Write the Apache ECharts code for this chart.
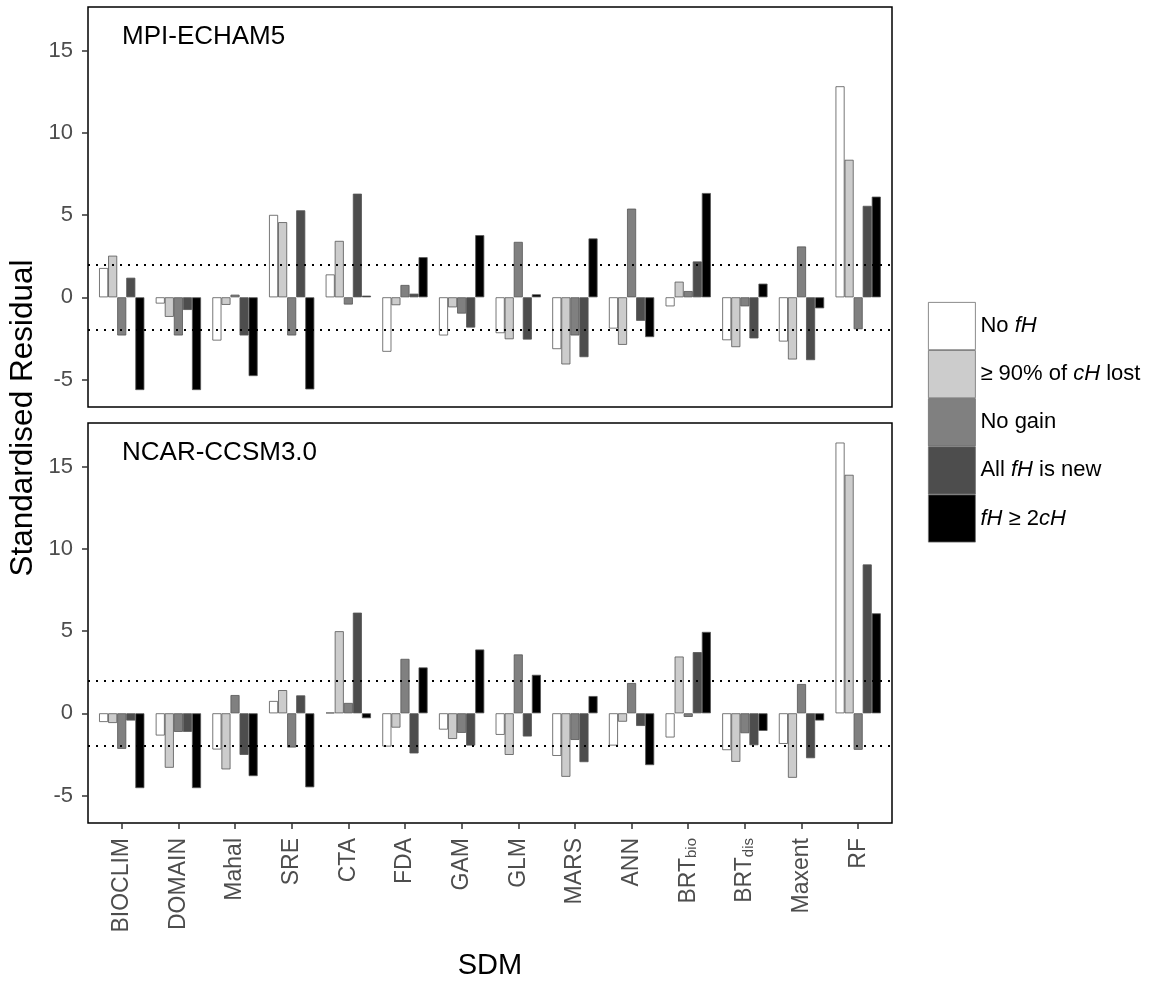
<!DOCTYPE html>
<html>
<head>
	<meta charset="UTF-8">
	<title>Standardised residuals by SDM</title>
	<script src="https://cdn.jsdelivr.net/npm/echarts@6/dist/echarts.min.js"></script>
	<style>
		html, body { margin: 0; padding: 0; background: #fff; }
	</style>
</head>
<body>
	<div id="chart1" style="width: 1154px;height: 987px;"></div>
<script type="text/javascript">
	// SDM names on the x axis
	var categories = ['BIOCLIM', 'DOMAIN', 'Mahal', 'SRE', 'CTA', 'FDA', 'GAM', 'GLM', 'MARS', 'ANN', 'BRT_bio', 'BRT_dis', 'Maxent', 'RF'];
	var legendNames = ['No fH', '≥ 90% of cH lost', 'No gain', 'All fH is new', 'fH ≥ 2cH'];
	var panelNames = ['MPI-ECHAM5', 'NCAR-CCSM3.0'];
	var yTicks = [-5, 0, 5, 10, 15];

	// MPI-ECHAM5 panel
	var mpiNoFH    = [1.78, -0.38, -2.63, 5.01, 1.39, -3.31, -2.32, -2.18, -3.15, -1.90, -0.55, -2.61, -2.69, 12.83];
	var mpiLost90  = [2.53, -1.19, -0.46, 4.57, 3.43, -0.48, -0.61, -2.55, -4.08, -2.89, 0.95, -3.03, -3.78, 8.36];
	var mpiNoGain  = [-2.32, -2.32, 0.16, -2.32, -0.44, 0.75, -0.99, 3.37, -2.32, 5.39, 0.38, -0.55, 3.09, -1.94];
	var mpiAllNew  = [1.19, -0.77, -2.32, 5.29, 6.30, 0.22, -1.84, -2.57, -3.64, -1.43, 2.18, -2.50, -3.82, 5.56];
	var mpiDouble  = [-5.64, -5.64, -4.79, -5.60, 0.10, 2.44, 3.78, 0.18, 3.58, -2.42, 6.34, 0.83, -0.67, 6.12];

	// NCAR-CCSM3.0 panel
	var ncarNoFH   = [-0.53, -1.35, -2.20, 0.75, 0.04, -2.02, -0.99, -1.31, -2.59, -1.96, -1.47, -2.24, -1.86, 16.46];
	var ncarLost90 = [-0.59, -3.31, -3.41, 1.41, 4.99, -0.87, -1.56, -2.53, -3.86, -0.51, 3.45, -2.95, -3.92, 14.50];
	var ncarNoGain = [-2.16, -1.13, 1.11, -2.08, 0.63, 3.31, -1.19, 3.58, -1.62, 1.84, -0.22, -1.21, 1.78, -2.22];
	var ncarAllNew = [-0.44, -1.13, -2.53, 1.09, 6.12, -2.44, -1.96, -1.41, -2.97, -0.77, 3.72, -1.94, -2.73, 9.05];
	var ncarDouble = [-4.55, -4.55, -3.82, -4.50, -0.30, 2.79, 3.88, 2.34, 1.05, -3.15, 4.95, -1.07, -0.44, 6.08];

	var refLines = [2, -2];

	var panels = [
		[mpiNoFH, mpiLost90, mpiNoGain, mpiAllNew, mpiDouble],
		[ncarNoFH, ncarLost90, ncarNoGain, ncarAllNew, ncarDouble]
	];

	var fills = ['#ffffff', '#cccccc', '#808080', '#4d4d4d', '#000000'];
	var font = '"Liberation Sans", Arial, sans-serif';
	var yMin = -6.67, yMax = 17.65;

	// legend labels with italic fH / cH
	var legendRich = {
		'No fH': 'No {i|fH}',
		'≥ 90% of cH lost': '≥ 90% of {i|cH} lost',
		'No gain': 'No gain',
		'All fH is new': 'All {i|fH} is new',
		'fH ≥ 2cH': '{i|fH} ≥ 2{i|cH}'
	};

	var panelTop = [7, 423];
	var panelHeight = 400;

	var chart1 = echarts.init(document.getElementById("chart1"));

	var grids = [], xAxes = [], yAxes = [], series = [];

	// frame grids (border, y axis, dotted lines)
	panelTop.forEach(function (top, p) {
		grids.push({
			left: 88, top: top, width: 804, height: panelHeight,
			show: true, borderColor: '#000', borderWidth: 1.5,
			backgroundColor: 'transparent', containLabel: false, outerBoundsMode: 'none'
		});
		xAxes.push({ type: 'value', gridIndex: p, min: 0, max: 1, show: false });
		yAxes.push({
			type: 'value', gridIndex: p, min: yMin, max: yMax,
			splitLine: { show: false },
			axisLine: { show: false },
			axisTick: { show: true, length: 6, customValues: yTicks, lineStyle: { color: '#333', width: 1.5 } },
			axisLabel: { customValues: yTicks, margin: 15, fontSize: 22, color: '#4d4d4d', fontFamily: font }
		});
		series.push({
			type: 'line', name: 'ref' + p, xAxisIndex: p, yAxisIndex: p, data: [],
			z: 10, silent: true,
			markLine: {
				silent: true, symbol: 'none', animation: false,
				label: { show: false },
				lineStyle: { color: '#000', width: 2, type: [2, 6] },
				data: refLines.map(function (v) { return { yAxis: v }; })
			}
		});
	});

	// data grids (bars)
	panelTop.forEach(function (top, p) {
		grids.push({
			left: 93.4, top: top, width: 793.1, height: panelHeight,
			show: false, containLabel: false, outerBoundsMode: 'none'
		});
		xAxes.push({
			type: 'category', gridIndex: 2 + p, data: categories,
			axisLine: { show: false, onZero: false },
			axisTick: { show: p === 1, alignWithLabel: true, length: 6, lineStyle: { color: '#333', width: 1.5 } },
			axisLabel: {
				show: p === 1, rotate: 90, margin: 15, interval: 0,
				fontSize: 23, color: '#4d4d4d', fontFamily: font,
				formatter: function (v) {
					var parts = v.split('_');
					return parts.length > 1 ? parts[0] + '{sub|' + parts[1] + '}' : v;
				},
				rich: {
					sub: { fontSize: 15, color: '#4d4d4d', fontFamily: font, verticalAlign: 'bottom' }
				}
			},
			name: p === 1 ? 'SDM' : '',
			nameLocation: 'middle', nameGap: 128,
			nameTextStyle: { fontSize: 29, color: '#000', fontFamily: font }
		});
		yAxes.push({ type: 'value', gridIndex: 2 + p, min: yMin, max: yMax, show: false, splitLine: { show: false } });

		panels[p].forEach(function (vals, k) {
			series.push({
				type: 'bar', name: legendNames[k],
				xAxisIndex: 2 + p, yAxisIndex: 2 + p,
				data: vals,
				barWidth: 9.06, barGap: '0%',
				itemStyle: { color: fills[k], borderColor: '#555', borderWidth: 0.8 },
				emphasis: { disabled: true }
			});
		});
	});

	var option = {
		animation: false,
		textStyle: { fontFamily: font },
		title: panelNames.map(function (t, p) {
			return {
				text: t, left: 122, top: panelTop[p] + 17, padding: 0,
				textStyle: { fontSize: 26, fontWeight: 'normal', color: '#000', fontFamily: font }
			};
		}),
		legend: {
			data: legendNames,
			orient: 'vertical',
			left: 928, top: 302, padding: 0,
			itemWidth: 47, itemHeight: 47.3, itemGap: 0,
			icon: 'rect',
			selectedMode: false,
			itemStyle: { borderColor: '#6e6e6e', borderWidth: 0.8 },
			formatter: function (name) { return legendRich[name]; },
			textStyle: {
				fontSize: 22, color: '#000', fontFamily: font,
				rich: { i: { fontSize: 22, fontStyle: 'italic', color: '#000', fontFamily: font } }
			}
		},
		grid: grids,
		xAxis: xAxes,
		yAxis: yAxes,
		series: series,
		graphic: [{
			type: 'text', x: 23, y: 418, rotation: Math.PI / 2,
			style: {
				text: 'Standardised Residual', fontSize: 31.5, fill: '#000', fontFamily: font,
				align: 'center', verticalAlign: 'middle'
			}
		}]
	};

	chart1.setOption(option);
</script>
</body>
</html>
